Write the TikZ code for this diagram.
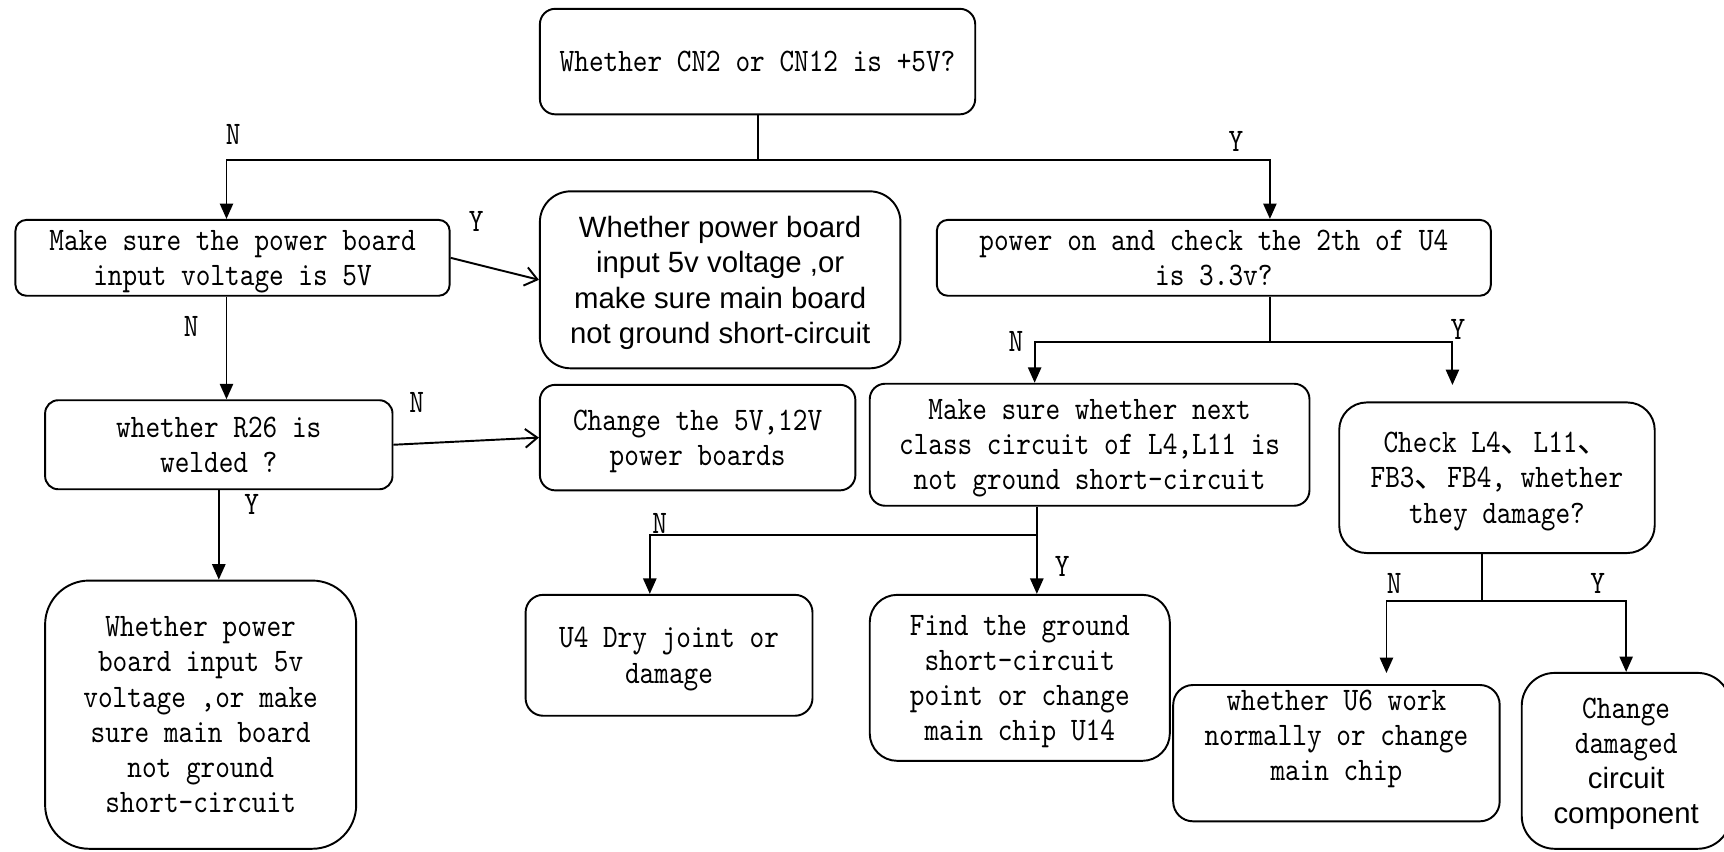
\documentclass[tikz,border=0pt]{standalone}
\usepackage{fontspec}
\usetikzlibrary{arrows.meta}
\newfontfamily\simfont{lmmono10-regular.otf}[FakeStretch=0.85]
\newfontfamily\arialfont{Liberation Sans}
\newfontfamily\cjkfont{Noto Sans CJK SC}
\newcommand{\dun}{{\cjkfont 、}}
\newcommand{\ar}[1]{{\arialfont\fontsize{15.2}{18.2}\selectfont #1}}

\begin{document}
\begin{tikzpicture}[x=0.02cm,y=-0.02cm]
    \tikzset{flow/.style={draw,line width=1pt,rounded corners=#1,align=center,inner sep=0pt,
        font=\simfont\fontsize{17}{18.2}\selectfont,text depth=-7pt},
      flow/.default=0.25cm,
      yn/.style={font=\simfont\fontsize{17}{18.2}\selectfont,inner sep=0pt},
      link/.style={line width=1pt},
      tri/.style={link,-{Triangle[length=0.28cm,width=0.24cm]}},
      barb/.style={link,-{Straight Barb[length=0.22cm,width=0.34cm]}}}
\useasboundingbox (0,0) rectangle (1568,774);
\node[flow=0.28cm,minimum width=7.92cm,minimum height=1.92cm](CNtest) at (689,56) {Whether CN2 or CN12 is +5V?};
\node[flow=0.2cm,minimum width=7.9cm,minimum height=1.38cm](Pwrin) at (211.5,234.5) {Make sure the power board\\input voltage is 5V};
\node[flow=0.56cm,minimum width=6.56cm,minimum height=3.22cm,font=\arialfont\fontsize{15.2}{18.2}\selectfont](Shortchk) at (655,254.5)
    {Whether power board\\input 5v voltage ,or\\make sure main board\\not ground short-circuit};
\node[flow=0.2cm,minimum width=10.08cm,minimum height=1.38cm](Uvolt) at (1104,234.5) {power on and check the 2th of U4\\is 3.3v?};
\node[flow=0.24cm,minimum width=6.32cm,minimum height=1.62cm](Rweld) at (199,404.5) {whether R26 is\\welded ?};
\node[flow=0.28cm,minimum width=5.74cm,minimum height=1.92cm](Chgpwr) at (634.5,398) {Change the 5V,12V\\power boards};
\node[flow=0.8cm,minimum width=5.66cm,minimum height=4.88cm](Shortchkb) at (182.5,650)
    {Whether power\\board input 5v\\voltage ,or make\\sure main board\\not ground\\short-circuit};
\node[flow=0.28cm,minimum width=8cm,minimum height=2.22cm](Nextcls) at (991,404.5)
    {Make sure whether next\\class circuit of L4,L11 is\\not ground short-circuit};
\node[flow=0.5cm,minimum width=5.74cm,minimum height=2.74cm](Lchk) at (1361.5,434.5)
    {Check L4\dun L11\dun\\FB3\dun FB4, whether\\they damage?};
\node[flow=0.32cm,minimum width=5.22cm,minimum height=2.2cm](Udry) at (608.5,596) {U4 Dry joint or\\damage};
\node[flow=0.5cm,minimum width=5.46cm,minimum height=3.02cm](Findgnd) at (927.5,616.5)
    {Find the ground\\short-circuit\\point or change\\main chip U14};
\node[flow=0.36cm,minimum width=5.94cm,minimum height=2.48cm](Usix) at (1215.5,685)
    {whether U6 work\\normally or change\\main chip\\~};
\node[flow=0.6cm,minimum width=3.8cm,minimum height=3.2cm](Chgdmg) at (1479,692)
    {Change\\damaged\\\ar{circuit}\\\ar{component}};
% Y / N
\node[yn](nA) at (212,122) {N};
\node[yn](yA) at (1124,129) {Y};
\node[yn](yB) at (433,201) {Y};
\node[yn](nB) at (174,297) {N};
\node[yn](nE) at (379,366) {N};
\node[yn](yE) at (229,459) {Y};
\node[yn](nD) at (924,311) {N};
\node[yn](yD) at (1326,300) {Y};
\node[yn](nH) at (600,476) {N};
\node[yn](yH) at (966,515) {Y};
\node[yn](nI) at (1268,531) {N};
\node[yn](yI) at (1453,531) {Y};

\draw[link] (CNtest.south) -- ++(0,41) coordinate (splitA);
\draw[tri] (splitA) -| ([xshift=-0.11cm]Pwrin.north);
\draw[tri] (splitA) -| ([xshift=1.02cm]Uvolt.north);
\draw[barb] (Pwrin.east) -- (Shortchk.west);
\draw[tri] ([xshift=-0.11cm]Pwrin.south) -- ([xshift=-0.11cm]Pwrin.south |- Rweld.north);
\draw[barb] (Rweld.east) -- (Chgpwr.west);
\draw[tri] (Rweld.south) -- (Rweld.south |- Shortchkb.north);
\draw[link] ([xshift=1.02cm]Uvolt.south) -- ++(0,41) coordinate (splitD);
\draw[tri] (splitD) -| ([xshift=-1cm]Nextcls.north);
\draw[tri] (splitD) -| ([xshift=-0.81cm,yshift=0.3cm]Lchk.north);
\draw[link] ([xshift=-0.96cm]Nextcls.south) -- ++(0,26) coordinate (splitH);
\draw[tri] (splitH) -- (splitH |- Findgnd.north);
\draw[tri] (splitH) -| ([xshift=-0.35cm]Udry.north);
\draw[link] ([xshift=-0.27cm]Lchk.south) -- ++(0,43) coordinate (splitI);
\draw[tri] (splitI) -| ([xshift=0.91cm,yshift=0.2cm]Usix.north);
\draw[tri] (splitI) -| (Chgdmg.north);
\end{tikzpicture}
\end{document}
